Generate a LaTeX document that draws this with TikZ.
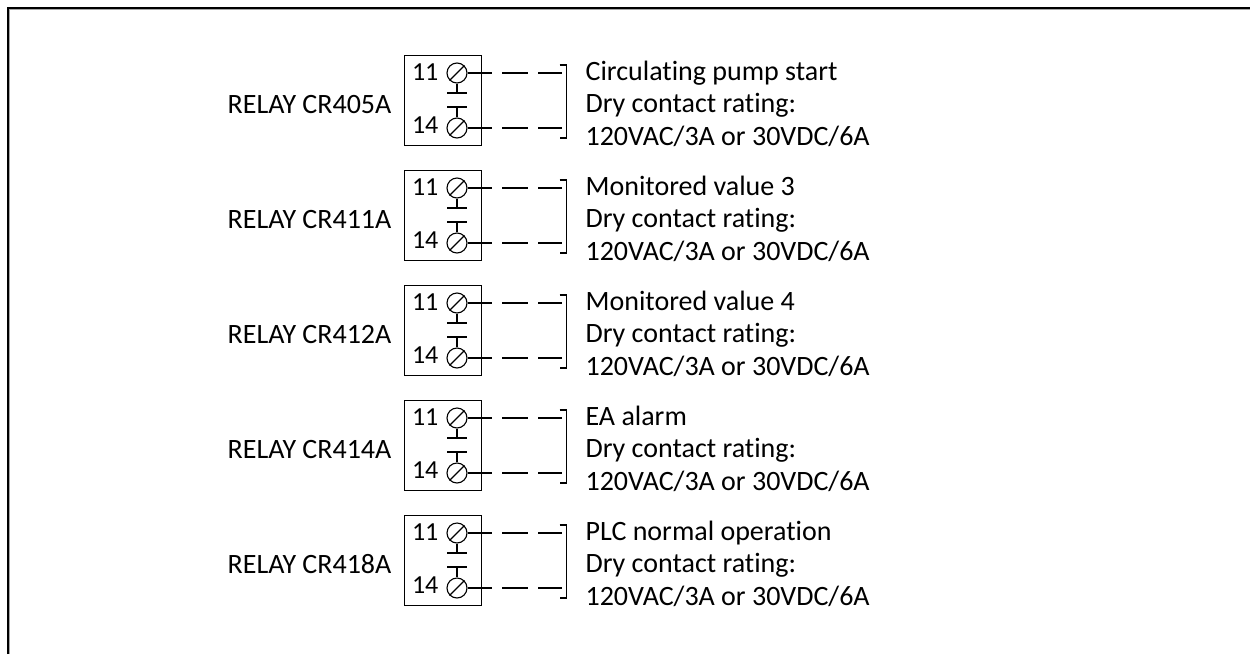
\documentclass[tikz,border=0pt]{standalone}
\usepackage{fontspec}
\setmainfont{Carlito}[Ligatures={NoCommon},RawFeature={-liga;-clig}]
\begin{document}
\begin{tikzpicture}[x=1pt,y=-1pt,line width=1.2pt,
  lbl/.style={inner sep=0,anchor=base west,font=\fontsize{28}{32}\selectfont},
  rlbl/.style={inner sep=0,anchor=base east,font=\fontsize{28}{32}\selectfont},
  num/.style={inner sep=0,anchor=base east,font=\fontsize{26}{30}\selectfont},
  term/.style={circle,draw,minimum size=20pt,inner sep=0,line width=1.1pt},
  relaybox/.style={draw,anchor=north west,minimum width=77pt,minimum height=90pt,inner sep=0,line width=1.3pt},
  wire/.style={line width=1.2pt}]
\useasboundingbox (0,0) rectangle (1250,654);
% frame
\coordinate (fbl) at (7.5,654);
\coordinate (ftl) at (7.5,7.5);
\coordinate (ftr) at (1250,7.5);
\draw[line width=2pt] (fbl) -- (ftl) -- (ftr);
\coordinate (gbl) at (9,654);
\coordinate (gtl) at (9,9);
\coordinate (gtr) at (1250,9);
\draw[line width=1pt,black!35] (gbl) -- (gtl) -- (gtr);
\foreach \i/\r/\t in {0/405/Circulating pump start,1/411/Monitored value 3,2/412/Monitored value 4,3/414/EA alarm,4/418/PLC normal operation}{
  \pgfmathsetmacro\yy{55+115*\i}
  \node[relaybox] (box\i) at (404,\yy) {};
  \node[rlbl] (relay\i) at (392,\yy+58) {RELAY CR\r A};
  \node[term] (ta\i) at (457,\yy+18) {};
  \node[term] (tb\i) at (457,\yy+73) {};
  \draw[line width=1.1pt] (ta\i.225) -- (ta\i.45);
  \draw[line width=1.1pt] (tb\i.225) -- (tb\i.45);
  \node[num] (na\i) at (439,\yy+25) {11};
  \node[num] (nb\i) at (439,\yy+78) {14};
  % contact
  \coordinate (ca\i) at (457,\yy+38);
  \coordinate (cb\i) at (457,\yy+52);
  \draw[wire] (ta\i.south) -- (ca\i);
  \draw[wire] ([xshift=-10pt]ca\i) -- ([xshift=10pt]ca\i);
  \draw[wire] (tb\i.north) -- (cb\i);
  \draw[wire] ([xshift=-10pt]cb\i) -- ([xshift=10pt]cb\i);
  % wires
  \coordinate (sa\i) at (492,\yy+18);
  \coordinate (sb\i) at (492,\yy+73);
  \draw[wire] (ta\i.east) -- (sa\i);
  \draw[wire] (tb\i.east) -- (sb\i);
  \draw[wire] (502,\yy+18) -- (528,\yy+18) (538,\yy+18) -- (562,\yy+18);
  \draw[wire] (502,\yy+73) -- (528,\yy+73) (538,\yy+73) -- (562,\yy+73);
  % bracket
  \coordinate (bt\i) at (566.5,\yy+10);
  \coordinate (bb\i) at (566.5,\yy+83);
  \draw[wire] ([xshift=-7pt]bt\i) -- (bt\i) -- (bb\i) -- ([xshift=-7pt]bb\i);
  % text
  \node[lbl] (t1\i) at (585,\yy+25) {\t};
  \node[lbl] (t2\i) at (585,\yy+57) {Dry contact rating:};
  \node[lbl] (t3\i) at (585,\yy+90) {120VAC/3A or 30VDC/6A};
}
\end{tikzpicture}
\end{document}
